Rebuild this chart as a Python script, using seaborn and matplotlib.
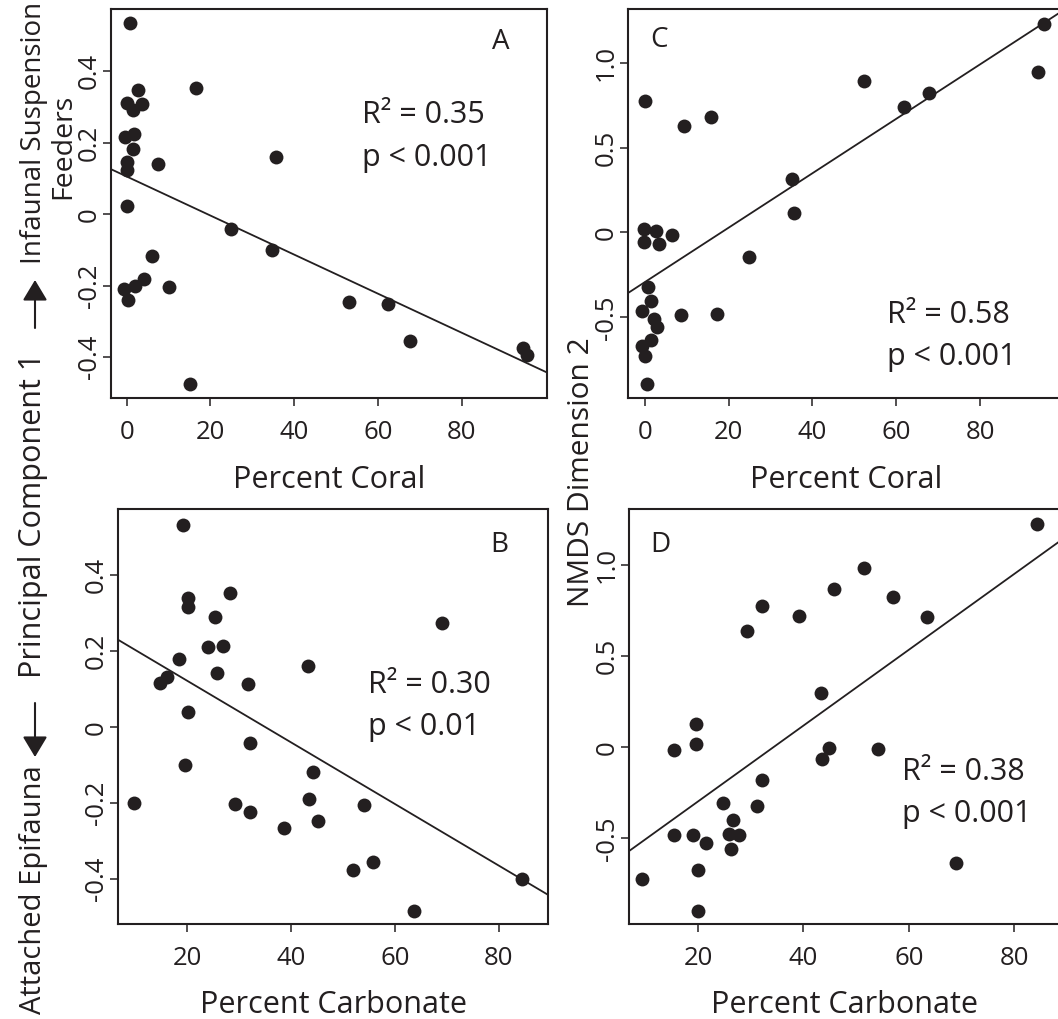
import matplotlib
matplotlib.use("Agg")
import matplotlib.pyplot as plt
from matplotlib.patches import FancyArrowPatch
import seaborn as sns

# Panel A: percent coral vs principal component 1
coral_A = [0.8, 2.8, 16.6, 0.0, 1.6, 3.6, -0.4, 1.8, 1.6, 0.0, 0.0, 7.5, 35.7, 0.0,
           25.0, 34.6, 6.0, -0.6, 2.0, 4.2, 10.2, 0.2, 15.1, 53.2, 62.5, 67.7, 94.7, 95.6]
pc1_A = [0.534, 0.348, 0.354, 0.312, 0.292, 0.308, 0.215, 0.224, 0.182, 0.145, 0.124,
         0.140, 0.159, 0.023, -0.042, -0.099, -0.117, -0.210, -0.202, -0.182, -0.203,
         -0.240, -0.476, -0.245, -0.251, -0.355, -0.374, -0.394]
fit_A = (0.1055, -0.00546)   # intercept, slope of the drawn fit

# Panel B: percent carbonate vs principal component 1
carb_B = [19.1, 20.2, 20.2, 28.2, 25.4, 23.9, 26.8, 18.3, 25.7, 14.7, 16.0, 31.6, 43.3,
          69.0, 20.1, 32.0, 19.6, 9.7, 29.1, 32.0, 38.6, 44.3, 43.4, 45.1, 54.1, 51.9,
          55.7, 63.6, 84.4]
pc1_B = [0.532, 0.341, 0.315, 0.353, 0.291, 0.212, 0.214, 0.180, 0.142, 0.115, 0.133,
         0.113, 0.160, 0.275, 0.040, -0.043, -0.099, -0.200, -0.203, -0.224, -0.266,
         -0.118, -0.189, -0.246, -0.206, -0.377, -0.356, -0.485, -0.400]
fit_B = (0.2838, -0.00810)

# Panel C: percent coral vs NMDS dimension 2
coral_C = [95.3, 93.8, 52.4, 61.9, 67.7, 0.1, 9.4, 15.7, 35.1, 35.5, 24.9, -0.1, 2.7,
           -0.1, 3.4, 6.5, 0.9, 1.4, -0.6, 2.2, 2.9, 8.7, 17.3, -0.6, 1.6, 0.1, 0.6]
nmds_C = [1.227, 0.943, 0.894, 0.737, 0.824, 0.775, 0.627, 0.678, 0.314, 0.114, -0.145,
          0.020, 0.010, -0.059, -0.067, -0.014, -0.322, -0.406, -0.461, -0.510, -0.559,
          -0.486, -0.482, -0.671, -0.635, -0.729, -0.890]
fit_C = (-0.293, 0.01604)

# Panel D: percent carbonate vs NMDS dimension 2
carb_D = [84.4, 51.5, 45.8, 57.0, 63.5, 32.1, 39.1, 29.2, 43.4, 19.7, 19.7, 15.4, 44.8,
          43.5, 54.2, 32.2, 24.7, 31.2, 26.6, 15.5, 19.0, 21.5, 25.8, 27.8, 26.3, 9.4,
          19.9, 20.0, 68.9]
nmds_D = [1.227, 0.985, 0.866, 0.822, 0.713, 0.774, 0.719, 0.640, 0.299, 0.127, 0.015,
          -0.017, -0.007, -0.062, -0.009, -0.178, -0.304, -0.325, -0.400, -0.484, -0.484,
          -0.524, -0.475, -0.479, -0.556, -0.723, -0.671, -0.900, -0.638]
fit_D = (-0.7135, 0.0208)

coral_ticks = [0, 20, 40, 60, 80]
carb_ticks = [20, 40, 60, 80]
pc_ticks = [-0.4, -0.2, 0, 0.2, 0.4]
pc_labels = ["-0.4", "-0.2", "0", "0.2", "0.4"]
nmds_ticks = [-0.5, 0, 0.5, 1.0]
nmds_labels = ["-0.5", "0", "0.5", "1.0"]

sns.set_style("ticks")
plt.rcParams["font.family"] = ["Open Sans", "DejaVu Sans"]
plt.rcParams["axes.unicode_minus"] = False
ink = "#231f20"

W, H = 1058, 1019
fig = plt.figure(figsize=(W / 100, H / 100), dpi=100)


def box(left, top, width, height):
    return [left / W, 1 - (top + height) / H, width / W, height / H]


def panel(ax, x, y, fit, xlim, ylim, xticks, yticks, ylabels, xlabel, label_y,
          letter, letter_pos, letter_ha, r2, pval, stats_pos):
    sns.scatterplot(x=x, y=y, ax=ax, s=100, color=ink, linewidth=0, zorder=3)
    ax.axline((0, fit[0]), slope=fit[1], color=ink, lw=1.3, zorder=2)
    ax.set_xlim(*xlim)
    ax.set_ylim(*ylim)
    ax.set_xticks(xticks)
    ax.set_xticklabels([str(t) for t in xticks])
    ax.set_yticks(yticks)
    ax.set_yticklabels(ylabels)
    for sp in ax.spines.values():
        sp.set_visible(True)
        sp.set_linewidth(1.5)
        sp.set_color(ink)
    ax.tick_params(axis="both", direction="out", length=5.5, width=1.1, color=ink,
                   labelsize=18.5, labelcolor=ink)
    ax.tick_params(axis="x", pad=10)
    ax.tick_params(axis="y", pad=1, labelrotation=90)
    for lab in ax.get_yticklabels():
        lab.set_va("center")
    ax.set_xlabel(xlabel, fontsize=22, color=ink)
    ax.xaxis.set_label_coords(0.5, label_y)
    ax.xaxis.label.set_va("baseline")
    ax.set_ylabel("")
    ax.text(letter_pos[0], letter_pos[1], letter, transform=ax.transAxes,
            ha=letter_ha, va="baseline", fontsize=20, color=ink)
    ax.text(stats_pos[0], stats_pos[1], r2, transform=ax.transAxes,
            ha="left", va="baseline", fontsize=22, color=ink)
    ax.text(stats_pos[0], stats_pos[2], pval, transform=ax.transAxes,
            ha="left", va="baseline", fontsize=22, color=ink)


axA = fig.add_axes(box(111, 9, 436, 389))
axC = fig.add_axes(box(628, 9, 436, 389))
axB = fig.add_axes(box(118, 509, 430, 415))
axD = fig.add_axes(box(629, 509, 430, 415))

panel(axA, coral_A, pc1_A, fit_A, (-3.75, 100.4), (-0.514, 0.574), coral_ticks,
      pc_ticks, pc_labels, "Percent Coral", -0.231, "A", (0.893, 0.897), "center",
      "R² = 0.35", "p < 0.001", (0.576, 0.707, 0.597))
panel(axC, coral_C, nmds_C, fit_C, (-3.98, 100.0), (-0.975, 1.316), coral_ticks,
      nmds_ticks, nmds_labels, "Percent Coral", -0.231, "C", (0.050, 0.902), "left",
      "R² = 0.58", "p < 0.001", (0.593, 0.193, 0.085))
panel(axB, carb_B, pc1_B, fit_B, (6.64, 89.5), (-0.518, 0.574), carb_ticks,
      pc_ticks, pc_labels, "Percent Carbonate", -0.214, "B", (0.886, 0.896), "center",
      "R² = 0.30", "p < 0.01", (0.581, 0.557, 0.455))
panel(axD, carb_D, nmds_D, fit_D, (6.9, 88.5), (-0.970, 1.307), carb_ticks,
      nmds_ticks, nmds_labels, "Percent Carbonate", -0.214, "D", (0.050, 0.896), "left",
      "R² = 0.38", "p < 0.001", (0.634, 0.347, 0.246))

# shared y labels on the left and in the middle
side = dict(rotation=90, rotation_mode="anchor", ha="center", va="baseline", color=ink)
fig.text(41 / W, 1 - 133 / H, "Infaunal Suspension", fontsize=20, **side)
fig.text(70 / W, 1 - 146 / H, "Feeders", fontsize=20.5, **side)
fig.text(41 / W, 1 - 515 / H, "Principal Component 1", fontsize=22, **side)
fig.text(41 / W, 1 - 890 / H, "Attached Epifauna", fontsize=21, **side)
fig.text(589 / W, 1 - 472 / H, "NMDS Dimension 2", fontsize=21.5, **side)

arrow_style = "-|>,head_length=0.45,head_width=0.27"
for start, end in [((35, 328), (35, 280)), ((35, 703), (35, 757))]:
    fig.add_artist(FancyArrowPatch((start[0] / W, 1 - start[1] / H),
                                   (end[0] / W, 1 - end[1] / H),
                                   transform=fig.transFigure, arrowstyle=arrow_style,
                                   mutation_scale=28, lw=1.5, color=ink,
                                   shrinkA=0, shrinkB=0))

fig.savefig("out.png", dpi=100)
